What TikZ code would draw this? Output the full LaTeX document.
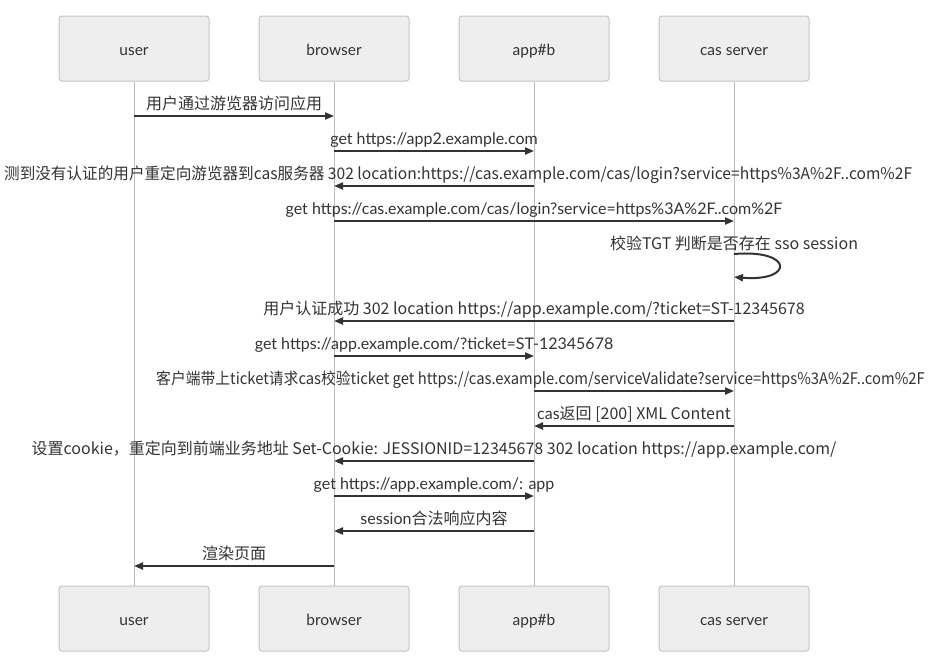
\documentclass[tikz,border=0pt]{standalone}
\usepackage{fontspec}
\setmainfont{Lato}
\newfontfamily\cjk{Noto Sans CJK SC}
\usetikzlibrary{arrows.meta}
\definecolor{boxfill}{HTML}{EEEEEE}
\definecolor{boxline}{HTML}{C4C4C4}
\definecolor{lifeline}{HTML}{BDBDBD}
\definecolor{msgcol}{HTML}{333333}
\begin{document}
\begin{tikzpicture}[x=1pt,y=-1pt,
 actor/.style={draw=boxline, fill=boxfill, rounded corners=3pt, minimum width=150pt, minimum height=65pt, line width=1pt, font=\fontsize{15.5}{18}\selectfont, text=msgcol, inner sep=0pt, text height=16pt, text depth=3pt},
 life/.style={draw=lifeline, line width=1pt},
 msgline/.style={draw=msgcol, line width=2pt, -{Triangle[length=9pt,width=7pt]}},
 lbl/.style={font=\fontsize{16}{18}\selectfont, text=msgcol, inner sep=0pt, anchor=base, yshift=7pt}]
\useasboundingbox (0,0) rectangle (933,662);
\clip (0,0) rectangle (933,662);
% actors
\node[actor] (u1) at (134,48.5) {user};
\node[actor] (b1) at (334,48.5) {browser};
\node[actor] (a1) at (534,48.5) {app\#b};
\node[actor] (c1) at (734,48.5) {cas server};
\node[actor] (u2) at (134,618.5) {user};
\node[actor] (b2) at (334,618.5) {browser};
\node[actor] (a2) at (534,618.5) {app\#b};
\node[actor] (c2) at (734,618.5) {cas server};
\draw[life] (u1.south) -- (u2.north);
\draw[life] (b1.south) -- (b2.north);
\draw[life] (a1.south) -- (a2.north);
\draw[life] (c1.south) -- (c2.north);
% message end points
\foreach \n/\y in {1/116,2/151,3/186,4/221,6/321,7/356,8/391,9/426,10/461,11/496,12/531,13/566}{
  \coordinate (u\n) at (134,\y);
  \coordinate (b\n) at (334,\y);
  \coordinate (a\n) at (534,\y);
  \coordinate (c\n) at (734,\y);
}
\coordinate (cs) at (734,254);
\coordinate (ce) at (734,277);
% messages
\draw[msgline] (u1) -- node[lbl] {\cjk{用户通过游览器访问应用}} (b1);
\draw[msgline] (b2) -- node[lbl] {get https://app2.example.com} (a2);
\draw[msgline] (a3) -- (b3);
\node[lbl, anchor=base west] (l3) at (4,186) {\scalebox{0.975}[1]{\cjk{测到没有认证的用户重定向游览器到}cas\cjk{服务器} 302 location:https://cas.example.com/cas/login?service=https\%3A\%2F..com\%2F}};
\draw[msgline] (b4) -- node[lbl] {get https://cas.example.com/cas/login?service=https\%3A\%2F..com\%2F} (c4);
\node[lbl] (selflbl) at (734,256) {\cjk{校验}TGT \cjk{判断是否存在} sso session};
\draw[msgline] (cs) .. controls (794,249) and (794,282) .. (ce);
\draw[msgline] (c6) -- node[lbl] {\cjk{用户认证成功} 302 location https://app.example.com/?ticket=ST-12345678} (b6);
\draw[msgline] (b7) -- node[lbl] {get https://app.example.com/?ticket=ST-12345678} (a7);
\draw[msgline] (a8) -- (c8);
\node[lbl, anchor=base west] (l8) at (156,391) {\scalebox{0.925}[1]{\cjk{客户端带上}ticket\cjk{请求}cas\cjk{校验}ticket get https://cas.example.com/serviceValidate?service=https\%3A\%2F..com\%2F}};
\draw[msgline] (c9) -- node[lbl] {cas\cjk{返回} [200] XML Content} (a9);
\draw[msgline] (a10) -- node[lbl] {\cjk{设置}cookie\cjk{，重定向到前端业务地址} Set-Cookie: JESSIONID=12345678 302 location https://app.example.com/} (b10);
\draw[msgline] (b11) -- node[lbl] {get https://app.example.com/: app} (a11);
\draw[msgline] (a12) -- node[lbl] {session\cjk{合法响应内容}} (b12);
\draw[msgline] (b13) -- node[lbl] {\cjk{渲染页面}} (u13);
\end{tikzpicture}
\end{document}
